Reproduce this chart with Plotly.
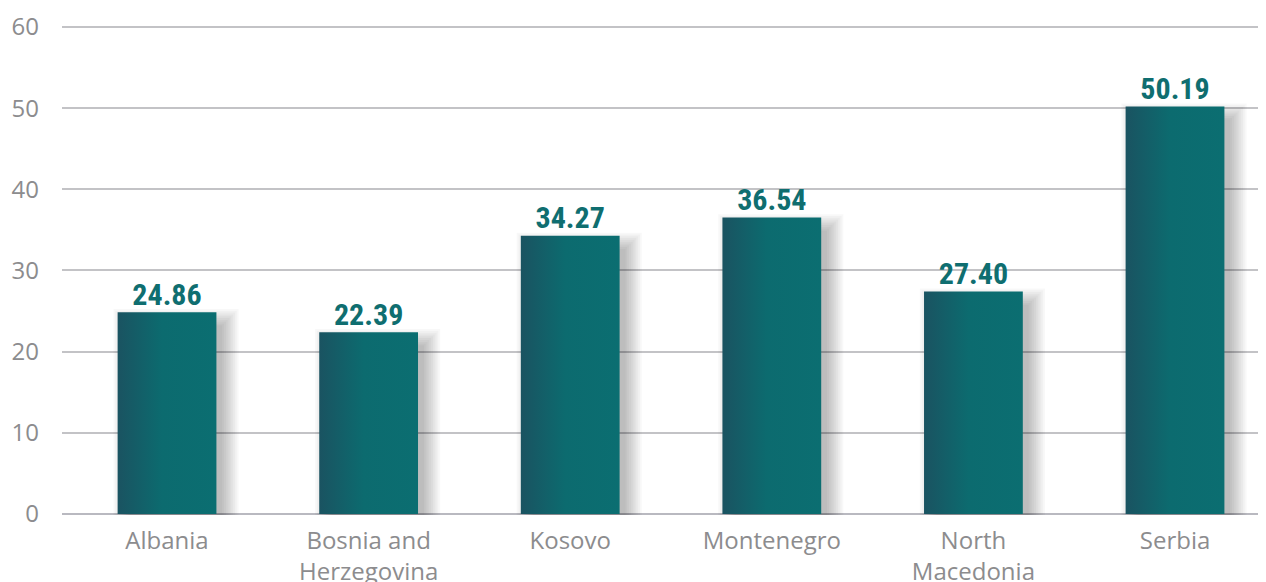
import plotly.graph_objects as go

categories = ["Albania", "Bosnia and<br>Herzegovina", "Kosovo", "Montenegro", "North<br>Macedonia", "Serbia"]
values = [24.86, 22.39, 34.27, 36.54, 27.40, 50.19]
labels = ["24.86", "22.39", "34.27", "36.54", "27.40", "50.19"]
y_ticks = [0, 10, 20, 30, 40, 50, 60]

BAR_W = 0.49
PX_X = 1 / 201.6      # data units per pixel (x)
PX_Y = 60 / 487       # data units per pixel (y)
GRAD = [[0.0, "#1a5361"], [0.45, "#0c6b6f"], [1.0, "#0b6e71"]]

fig = go.Figure()

# soft shadows (layered, semi-transparent)
for i, v in enumerate(values):
    for k in range(10):
        spread = 1 + k * 1.8
        cx = 9
        cy = 10
        x0 = i - BAR_W / 2 + (cx - spread + 4) * PX_X
        x1 = i + BAR_W / 2 + (cx + spread - 4) * PX_X
        y0 = -(cy + spread - 5) * PX_Y
        y1 = v - (cy - spread + 4) * PX_Y
        fig.add_trace(go.Scatter(
            x=[x0, x1, x1, x0, x0], y=[y0, y0, y1, y1, y0],
            mode="lines", line=dict(width=0), fill="toself",
            fillcolor="rgba(0,0,0,0.028)", hoverinfo="skip", showlegend=False))

# bars with horizontal gradient
for i, v in enumerate(values):
    x0 = i - BAR_W / 2
    x1 = i + BAR_W / 2
    fig.add_trace(go.Scatter(
        x=[x0, x1, x1, x0, x0], y=[0, 0, v, v, 0],
        mode="lines", line=dict(width=0), fill="toself",
        fillgradient=dict(type="horizontal", colorscale=GRAD, start=x0, stop=x1),
        hoverinfo="skip", showlegend=False))

# value labels
fig.add_trace(go.Scatter(
    x=list(range(len(values))), y=values, mode="text", text=labels,
    textposition="top center",
    textfont=dict(family="Roboto Condensed, Liberation Sans Narrow, Roboto, sans-serif",
                  size=30, color="#0f6e70", weight="bold"),
    hoverinfo="skip", showlegend=False))

# margins compensate for the page's default 8px body margin
fig.update_layout(
    width=1266, height=582,
    margin=dict(l=54, r=0, t=15, b=75),
    paper_bgcolor="white", plot_bgcolor="white",
    font=dict(family="Open Sans, Noto Sans, sans-serif", color="#8c8c8e"),
    xaxis=dict(
        range=[-0.521, 5.491], tickmode="array",
        tickvals=list(range(len(categories))), ticktext=categories,
        showgrid=False, zeroline=False, showline=False, ticks="",
        ticklabelstandoff=9,
        tickfont=dict(size=24, color="#8c8c8e"), automargin=False,
    ),
    yaxis=dict(
        range=[-0.123, 60.49], tickmode="array", tickvals=y_ticks,
        showgrid=True, gridcolor="#c3c3c6", gridwidth=2,
        zeroline=True, zerolinecolor="#b9b9c0", zerolinewidth=2,
        showline=False, ticks="", ticklabelstandoff=22,
        tickfont=dict(size=24, color="#8c8c8e"), automargin=False,
    ),
)

fig.write_html("out.html")
